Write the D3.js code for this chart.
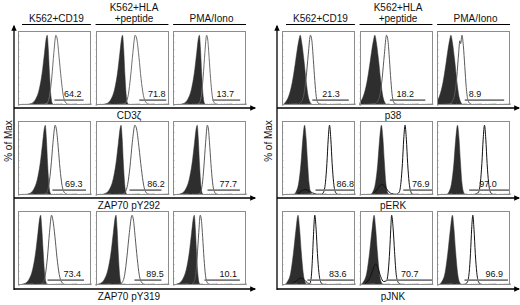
<!DOCTYPE html>
<html><head><meta charset="utf-8">
<script src="https://cdn.jsdelivr.net/npm/d3@7"></script>
<style>html,body{margin:0;padding:0;background:#fff;} svg{display:block;font-family:"Liberation Sans",Arial,sans-serif;}</style>
</head><body><svg id="c" width="520" height="305"></svg>
<script>
// ---------- DATA ----------
const columnHeaders = [["K562+CD19"], ["K562+HLA", "+peptide"], ["PMA/Iono"]];
const leftMarkers = ["CD3ζ", "ZAP70 pY292", "ZAP70 pY319"];
const rightMarkers = ["p38", "pERK", "pJNK"];
const yAxisLabel = "% of Max";

// gate percentages [row][col]
const leftGatePct = [[64.2, 71.8, 13.7], [69.3, 86.2, 77.7], [73.4, 89.5, 10.1]];
const rightGatePct = [[21.3, 18.2, 8.9], [86.8, 76.9, 97.0], [83.6, 70.7, 96.9]];

// gate ranges in log-decades (0..5) [row][col]
const leftGates = [[[2.5, 4.5], [3.0, 4.85], [2.7, 4.6]],
                   [[2.36, 4.66], [2.33, 4.52], [2.36, 4.58]],
                   [[2.03, 4.53], [2.67, 4.52], [2.15, 4.58]]];
const rightGates = [[[2.08, 4.58], [2.08, 4.51], [1.9, 4.6]],
                    [[2.3, 5.0], [3.0, 5.0], [2.2, 4.95]],
                    [[1.74, 4.93], [1.88, 5.0], [1.88, 4.86]]];
// gate label centre (decades)
const leftLabelX = [[3.75, 4.2, 3.58], [3.82, 4.14, 3.78], [3.72, 4.08, 3.78]];
const rightLabelX = [[3.37, 3.13, 2.6], [4.34, 4.2, 3.5], [3.82, 3.44, 3.92]];

// control (filled) histograms: [decade, % of max]
const leftFilled = [
 [
  [[0.5,0],[0.9,2],[1.2,8],[1.45,22],[1.65,45],[1.82,75],[1.95,97],[2.0,100],[2.08,80],[2.16,45],[2.25,15],[2.34,3],[2.48,0]],
  [[0.35,0],[0.75,2],[1.05,8],[1.3,22],[1.5,45],[1.67,75],[1.8,97],[1.85,100],[1.93,80],[2.01,45],[2.1,15],[2.19,3],[2.33,0]],
  [[0.3,0],[0.7,2],[1.0,8],[1.25,22],[1.45,45],[1.62,75],[1.75,97],[1.8,100],[1.88,80],[1.96,45],[2.05,15],[2.14,3],[2.28,0]]
 ],
 [
  [[0.37,0],[0.77,2],[1.07,8],[1.32,22],[1.52,45],[1.69,75],[1.82,97],[1.87,100],[1.95,80],[2.03,45],[2.12,15],[2.21,3],[2.35,0]],
  [[0.25,0],[0.65,2],[0.95,8],[1.2,22],[1.4,45],[1.57,75],[1.7,97],[1.75,100],[1.83,80],[1.91,45],[2.0,15],[2.09,3],[2.23,0]],
  [[0.15,0],[0.55,2],[0.85,8],[1.1,22],[1.3,45],[1.47,75],[1.6,97],[1.65,100],[1.73,80],[1.81,45],[1.9,15],[1.99,3],[2.13,0]]
 ],
 [
  [[0.05,0],[0.45,2],[0.75,8],[1.0,22],[1.2,45],[1.37,75],[1.5,97],[1.55,100],[1.63,82],[1.72,50],[1.82,18],[1.92,4],[2.05,0]],
  [[-0.1,0],[0.3,2],[0.6,8],[0.85,22],[1.05,45],[1.22,75],[1.35,97],[1.4,100],[1.48,80],[1.56,45],[1.65,15],[1.74,3],[1.88,0]],
  [[-0.05,0],[0.35,2],[0.65,8],[0.9,22],[1.1,45],[1.27,75],[1.4,97],[1.45,100],[1.53,80],[1.61,45],[1.7,15],[1.79,3],[1.93,0]]
 ]
];
// stimulated (open) histograms
const leftOpen = [
 [
  [[1.7,0],[2.0,3],[2.18,15],[2.32,40],[2.46,75],[2.6,100],[2.7,93],[2.82,68],[2.96,38],[3.1,14],[3.25,4],[3.45,1],[3.9,0]],
  [[1.8,0],[2.05,3],[2.25,15],[2.4,40],[2.56,75],[2.72,100],[2.84,93],[2.98,68],[3.12,38],[3.28,14],[3.45,4],[3.65,1],[4.0,0]],
  [[1.6,0],[1.8,3],[1.95,15],[2.06,40],[2.18,75],[2.3,100],[2.38,93],[2.47,68],[2.57,38],[2.68,14],[2.8,4],[2.95,1],[3.3,0]]
 ],
 [
  [[1.7,0],[1.95,3],[2.12,15],[2.26,40],[2.4,75],[2.55,100],[2.64,93],[2.76,68],[2.88,38],[3.02,14],[3.16,4],[3.35,1],[3.8,0]],
  [[1.75,0],[2.0,3],[2.2,15],[2.36,40],[2.52,75],[2.7,100],[2.83,93],[2.98,68],[3.14,38],[3.3,14],[3.45,4],[3.65,1],[4.1,0]],
  [[1.65,0],[1.85,3],[2.0,15],[2.11,40],[2.23,75],[2.35,100],[2.43,93],[2.52,68],[2.62,38],[2.73,14],[2.85,4],[3.0,1],[3.35,0]]
 ],
 [
  [[1.45,0],[1.7,3],[1.88,15],[2.02,40],[2.16,75],[2.3,100],[2.4,92],[2.53,70],[2.67,40],[2.83,15],[3.0,4],[3.2,1],[3.6,0]],
  [[1.5,0],[1.8,3],[2.0,15],[2.15,40],[2.32,75],[2.5,100],[2.6,93],[2.72,68],[2.86,38],[3.0,14],[3.15,4],[3.35,1],[3.8,0]],
  [[1.2,0],[1.4,3],[1.55,15],[1.65,40],[1.76,75],[1.86,100],[1.94,93],[2.03,68],[2.12,38],[2.22,14],[2.33,4],[2.48,1],[2.8,0]]
 ]
];
const rightFilled = [
 [
  [[0.0,0],[0.2,3],[0.45,12],[0.7,32],[0.9,58],[1.05,80],[1.15,92],[1.25,100],[1.35,90],[1.5,65],[1.65,35],[1.8,12],[1.95,3],[2.1,0]],
  [[-0.2,0],[0.0,3],[0.25,12],[0.5,32],[0.7,58],[0.85,80],[0.95,92],[1.05,100],[1.15,90],[1.3,65],[1.45,35],[1.6,12],[1.75,3],[1.9,0]],
  [[-0.3,0],[-0.1,3],[0.15,12],[0.4,32],[0.6,58],[0.75,80],[0.85,92],[0.95,100],[1.05,90],[1.2,65],[1.35,35],[1.5,12],[1.65,3],[1.8,0]]
 ],
 [
  [[0.75,0],[0.95,4],[1.15,18],[1.3,45],[1.42,78],[1.55,100],[1.65,82],[1.75,48],[1.85,18],[1.95,5],[2.1,0]],
  [[0.7,0],[0.9,4],[1.1,18],[1.25,45],[1.37,78],[1.5,100],[1.6,82],[1.7,48],[1.8,18],[1.9,5],[2.05,0]],
  [[0.6,0],[0.8,4],[1.0,18],[1.15,45],[1.27,78],[1.4,100],[1.5,82],[1.6,48],[1.7,18],[1.8,5],[1.95,0]]
 ],
 [
  [[0.1,0],[0.35,4],[0.6,18],[0.78,45],[0.95,78],[1.1,100],[1.2,82],[1.32,48],[1.45,18],[1.57,5],[1.75,0]],
  [[0.0,0],[0.25,4],[0.5,18],[0.68,45],[0.85,78],[1.0,100],[1.1,82],[1.22,48],[1.35,18],[1.47,5],[1.65,0]],
  [[0.05,0],[0.3,4],[0.55,18],[0.73,45],[0.9,78],[1.05,100],[1.15,82],[1.27,48],[1.4,18],[1.52,5],[1.7,0]]
 ]
];
const rightOpen = [
 [
  [[1.0,0],[1.3,4],[1.5,15],[1.65,38],[1.8,72],[1.95,100],[2.05,92],[2.15,65],[2.25,35],[2.35,12],[2.47,3],[2.65,1],[3.0,0]],
  [[0.9,0],[1.2,4],[1.4,15],[1.55,38],[1.7,72],[1.85,100],[1.95,92],[2.05,65],[2.15,35],[2.25,12],[2.37,3],[2.55,1],[2.9,0]],
  [[0.7,0],[1.0,4],[1.2,15],[1.35,40],[1.48,75],[1.56,92],[1.62,88],[1.7,100],[1.8,85],[1.9,55],[2.0,25],[2.1,8],[2.25,2],[2.5,0]]
 ],
 [
  [[0.8,0],[1.1,2],[1.35,6],[1.6,8],[1.85,6],[2.1,3],[2.4,1],[2.7,1],[2.85,4],[2.98,18],[3.08,45],[3.17,80],[3.26,100],[3.35,80],[3.44,45],[3.54,18],[3.65,5],[3.8,1],[4.1,0]],
  [[0.7,0],[1.0,3],[1.25,9],[1.5,15],[1.75,12],[1.95,6],[2.2,2],[2.5,1],[2.72,4],[2.84,18],[2.94,45],[3.03,80],[3.12,100],[3.21,80],[3.3,45],[3.4,18],[3.51,5],[3.65,1],[3.95,0]],
  [[2.3,0],[2.6,1],[2.84,4],[2.97,18],[3.07,45],[3.16,80],[3.25,100],[3.34,80],[3.43,45],[3.53,18],[3.64,5],[3.8,1],[4.1,0]]
 ],
 [
  [[0.4,0],[0.7,2],[1.0,6],[1.3,10],[1.55,7],[1.75,3],[1.9,2],[2.0,10],[2.08,35],[2.16,72],[2.25,100],[2.34,80],[2.43,45],[2.53,18],[2.64,5],[2.8,1],[3.1,0]],
  [[0.2,0],[0.5,4],[0.75,12],[0.95,24],[1.1,30],[1.25,25],[1.45,12],[1.65,5],[1.85,6],[1.97,20],[2.07,50],[2.14,80],[2.2,100],[2.3,82],[2.4,48],[2.5,18],[2.62,5],[2.8,1],[3.1,0]],
  [[1.6,0],[1.9,1],[2.07,4],[2.2,18],[2.29,45],[2.37,80],[2.45,100],[2.53,80],[2.62,45],[2.72,18],[2.83,5],[3.0,1],[3.3,0]]
 ]
];

// ---------- DRAWING ----------
const svg = d3.select("#c");
const defs = svg.append("defs");
defs.append("marker").attr("id", "arr").attr("viewBox", "0 0 10 10")
  .attr("refX", 8).attr("refY", 5).attr("markerWidth", 7).attr("markerHeight", 6)
  .attr("markerUnits", "userSpaceOnUse").attr("orient", "auto")
  .append("path").attr("d", "M0,0.5L10,5L0,9.5Z").attr("fill", "#000");

const groups = [
  {markers: leftMarkers, pct: leftGatePct, gates: leftGates, labelX: leftLabelX,
   filled: leftFilled, open: leftOpen, x0: 18, x1: 246, axisX: 14, axisEnd: 255, yLabX: 12,
   openColor: ["#6e6e6e", "#5a5a5a", "#5a5a5a"]},
  {markers: rightMarkers, pct: rightGatePct, gates: rightGates, labelX: rightLabelX,
   filled: rightFilled, open: rightOpen, x0: 282, x1: 510, axisX: 277, axisEnd: 519, yLabX: 272,
   openColor: ["#5a5a5a", "#111", "#111"]}
];
const rows = d3.scaleBand().domain([0, 1, 2]).range([31, 285]).paddingInner(0.178);
const labelBase = [119, 209, 300];

groups.forEach((g, gi) => {
  const cols = d3.scaleBand().domain([0, 1, 2]).range([g.x0, g.x1]).paddingInner(0.06);
  const pw = cols.bandwidth(), ph = rows.bandwidth();

  // column headers
  columnHeaders.forEach((lines, c) => {
    const cx = cols(c) + pw / 2 + 2;
    svg.append("line").attr("x1", cols(c) + (c === 0 ? 4 : 0)).attr("x2", cols(c) + pw)
      .attr("y1", 24.5).attr("y2", 24.5).attr("stroke", "#000").attr("stroke-width", 1);
    lines.forEach((t, i) => {
      svg.append("text").attr("x", cx).attr("y", 22 - (lines.length - 1 - i) * 11.5)
        .attr("text-anchor", "middle").attr("font-size", 10).attr("fill", "#111").text(t);
    });
  });

  // y axis
  const bottomAxisY = rows(2) + ph + 4;
  svg.append("line").attr("x1", g.axisX).attr("x2", g.axisX)
    .attr("y1", bottomAxisY + 1).attr("y2", 26)
    .attr("stroke", "#000").attr("stroke-width", 1.3).attr("marker-end", "url(#arr)");
  svg.append("text").attr("transform", `translate(${g.yLabX},141) rotate(-90)`)
    .attr("text-anchor", "middle").attr("font-size", 10).attr("fill", "#111").text(yAxisLabel);

  [0, 1, 2].forEach(r => {
    const py = rows(r);
    const axY = py + ph + 3 + (r === 2 ? 1 : 0);
    svg.append("line").attr("x1", g.axisX).attr("x2", g.axisEnd).attr("y1", axY).attr("y2", axY)
      .attr("stroke", "#000").attr("stroke-width", 1.3).attr("marker-end", "url(#arr)");
    svg.append("text").attr("x", (g.x0 + g.x1) / 2 - 3).attr("y", labelBase[r])
      .attr("text-anchor", "middle").attr("font-size", 10).attr("fill", "#111").text(g.markers[r]);

    [0, 1, 2].forEach(c => {
      const px = cols(c);
      const x = d3.scaleLinear().domain([0, 5]).range([px, px + pw]);
      const xl = d3.scaleLog().domain([1, 1e5]).range([px, px + pw]);
      const y = d3.scaleLinear().domain([0, 106]).range([py + ph, py]);
      const id = `clip${gi}${r}${c}`;
      defs.append("clipPath").attr("id", id).append("rect")
        .attr("x", px).attr("y", py).attr("width", pw).attr("height", ph);
      const pg = svg.append("g");
      const inner = pg.append("g").attr("clip-path", `url(#${id})`);

      const area = d3.area().x(d => x(d[0])).y0(y(0)).y1(d => y(d[1])).curve(d3.curveMonotoneX);
      const line = d3.line().x(d => x(d[0])).y(d => y(d[1])).curve(d3.curveMonotoneX);
      inner.append("path").datum(g.filled[r][c]).attr("d", area)
        .attr("fill", "#2e2e2e").attr("stroke", "#2e2e2e").attr("stroke-width", 0.5);
      inner.append("path").datum(g.open[r][c]).attr("d", line)
        .attr("fill", "none").attr("stroke", g.openColor[r]).attr("stroke-width", 1);

      // gate
      const gy = y(7);
      const [ga, gb] = g.gates[r][c];
      inner.append("line").attr("x1", x(ga)).attr("x2", x(gb)).attr("y1", gy).attr("y2", gy)
        .attr("stroke", "#7a7a7a").attr("stroke-width", 1.6);
      pg.append("text").attr("x", x(g.labelX[r][c])).attr("y", gy - 3)
        .attr("text-anchor", "middle").attr("font-size", 9).attr("fill", "#111")
        .text(g.pct[r][c].toFixed(1));

      // ticks
      const bt = pg.append("g").attr("transform", `translate(0,${py + ph})`)
        .call(d3.axisBottom(xl).tickSize(-1.5).tickFormat(""));
      bt.select(".domain").remove();
      bt.selectAll("line").attr("stroke", "#888").attr("stroke-width", 0.6);
      const lt = pg.append("g").attr("transform", `translate(${px},0)`)
        .call(d3.axisLeft(y).tickValues(d3.range(0, 101, 10)).tickSize(-1.5).tickFormat(""));
      lt.select(".domain").remove();
      lt.selectAll("line").attr("stroke", "#888").attr("stroke-width", 0.6);

      pg.append("rect").attr("x", Math.round(px) + 0.5).attr("y", Math.round(py) + 0.5)
        .attr("width", Math.round(pw) - 1).attr("height", Math.round(ph) - 1)
        .attr("fill", "none").attr("stroke", "#8c8c8c").attr("stroke-width", 1);
    });
  });
});
</script></body></html>
